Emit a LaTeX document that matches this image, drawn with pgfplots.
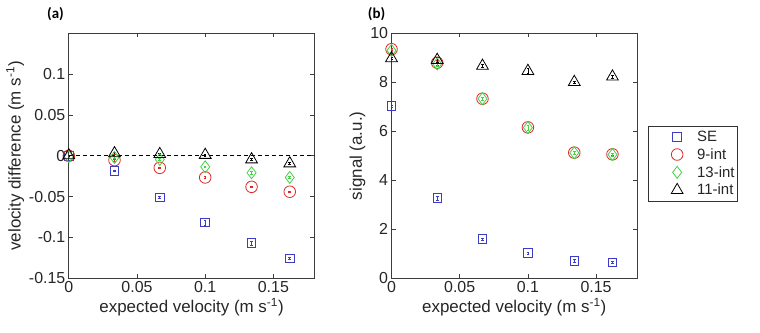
\documentclass[border=0pt]{standalone}
\usepackage{fontspec}
\setmainfont{Liberation Sans}
\newfontfamily\carlito{Carlito}
\usepackage{pgfplots}
\pgfplotsset{compat=1.18}
\definecolor{seblue}{RGB}{60,60,200}
\definecolor{nired}{RGB}{220,40,40}
\definecolor{thgreen}{RGB}{70,210,70}
\definecolor{axgray}{RGB}{60,60,60}
\pgfplotsset{
  myax/.style={
    scale only axis, width=245.5bp, height=245bp, anchor=south west,
    xmin=0, xmax=0.18,
    xtick={0,0.05,0.1,0.15}, xticklabels={0,0.05,0.1,0.15},
    tick align=inside, major tick length=4bp,
    axis line style={axgray, line width=0.7bp},
    every tick/.style={axgray, line width=0.7bp},
    tick label style={font=\fontsize{16}{16}\selectfont, text=black!85},
    label style={font=\fontsize{17}{17}\selectfont, text=black!85},
    xlabel={expected velocity (m s\textsuperscript{-1})},
    xlabel style={yshift=2bp},
  },
  myleg/.style={legend image code/.code={\path[draw=none, fill=none] (0bp,-5bp) rectangle (46bp,5bp); \draw[##1, only marks] plot coordinates {(28bp,0bp)};}},
  semark/.style={only marks, myleg, mark=square, seblue, mark size=4.3bp, mark options={line width=0.8bp},
    error bars/.cd, y dir=both, y explicit, error bar style={line width=0.6bp, seblue}, error mark options={rotate=90, mark size=1.3bp, seblue}},
  nimark/.style={only marks, myleg, mark=o, nired, mark size=5.8bp, mark options={line width=0.8bp},
    error bars/.cd, y dir=both, y explicit, error bar style={line width=0.6bp, nired}, error mark options={rotate=90, mark size=1.3bp, nired}},
  thmark/.style={only marks, myleg, mark=diamond, thgreen, mark size=6bp, mark options={line width=0.8bp},
    error bars/.cd, y dir=both, y explicit, error bar style={line width=0.6bp, thgreen}, error mark options={rotate=90, mark size=1.3bp, thgreen}},
  elmark/.style={only marks, myleg, mark=triangle, black, mark size=6.8bp, mark options={line width=0.8bp},
    error bars/.cd, y dir=both, y explicit, error bar style={line width=0.6bp, black}, error mark options={rotate=90, mark size=1.3bp, black}},
}
\begin{document}
\begin{tikzpicture}[x=1bp,y=1bp]
\path[use as bounding box] (0,0) rectangle (760,332);
\node[font=\carlito\bfseries\fontsize{15}{15}\selectfont, anchor=center] at (55.5,318) {(a)};
\node[font=\carlito\bfseries\fontsize{15}{15}\selectfont, anchor=center] at (376.5,318) {(b)};
% panel (a)
\begin{axis}[myax, at={(68.8bp,53.7bp)},
  ymin=-0.15, ymax=0.15,
  ytick={-0.15,-0.1,-0.05,0,0.05,0.1}, yticklabels={-0.15,-0.1,-0.05,0,0.05,0.1},
  ylabel={velocity difference (m s\textsuperscript{-1})},
  ylabel style={yshift=-2bp},
]
\addplot[black, dashed, line width=0.8bp, dash pattern=on 4bp off 3bp] coordinates {(0,0) (0.18,0)};
\addplot[semark] table[x=x, y=y, y error=e] {
x y e
0 0 0.0005
0.0335 -0.0184 0.001
0.0667 -0.051 0.0015
0.1 -0.0816 0.003
0.134 -0.107 0.003
0.162 -0.1257 0.0015
};
\addplot[nimark] table[x=x, y=y, y error=e] {
x y e
0 0 0.0005
0.0335 -0.0053 0.001
0.0667 -0.0147 0.001
0.1 -0.0265 0.001
0.134 -0.038 0.001
0.162 -0.044 0.001
};
\addplot[thmark] table[x=x, y=y, y error=e] {
x y e
0 -0.001 0.0005
0.0335 -0.002 0.001
0.0667 -0.0045 0.001
0.1 -0.0135 0.001
0.134 -0.0208 0.002
0.162 -0.0265 0.001
};
\addplot[elmark] table[x=x, y=y, y error=e] {
x y e
0 0.0005 0.0005
0.0335 0.003 0.001
0.0667 0.002 0.001
0.1 0.001 0.001
0.134 -0.0045 0.001
0.162 -0.0094 0.001
};
\end{axis}
% panel (b)
\begin{axis}[myax, at={(391.5bp,53.7bp)},
  ymin=0, ymax=10,
  ytick={0,2,4,6,8,10}, yticklabels={0,2,4,6,8,10},
  ylabel={signal (a.u.)},
  ylabel style={yshift=-2bp},
  legend style={at={(1.044,0.468)}, anchor=west, draw=black!80, line width=0.7bp,
    font=\fontsize{15}{15}\selectfont, text=black!85, row sep=1.5bp, inner xsep=1bp, inner ysep=3bp},
  legend cell align=left,
]
\addplot[semark] table[x=x, y=y, y error=e] {
x y e
0 7.03 0.05
0.0335 3.28 0.08
0.0667 1.60 0.05
0.1 1.03 0.05
0.134 0.71 0.05
0.162 0.65 0.05
};
\addplot[nimark] table[x=x, y=y, y error=e] {
x y e
0 9.35 0.05
0.0335 8.80 0.1
0.0667 7.33 0.05
0.1 6.16 0.1
0.134 5.13 0.05
0.162 5.06 0.05
};
\addplot[thmark] table[x=x, y=y, y error=e] {
x y e
0 9.30 0.05
0.0335 8.75 0.1
0.0667 7.33 0.05
0.1 6.15 0.1
0.134 5.12 0.05
0.162 5.05 0.05
};
\addplot[elmark] table[x=x, y=y, y error=e] {
x y e
0 8.98 0.05
0.0335 8.91 0.1
0.0667 8.67 0.05
0.1 8.46 0.1
0.134 8.01 0.05
0.162 8.23 0.05
};
\legend{SE,9-int,13-int,11-int}
\node[anchor=south west, font=\fontsize{13}{13}\selectfont, text=black!85, inner sep=0pt] at (rel axis cs:0,1) [xshift=1bp, yshift=2.5bp] {$\times$10\textsuperscript{5}};
\end{axis}
\end{tikzpicture}
\end{document}
